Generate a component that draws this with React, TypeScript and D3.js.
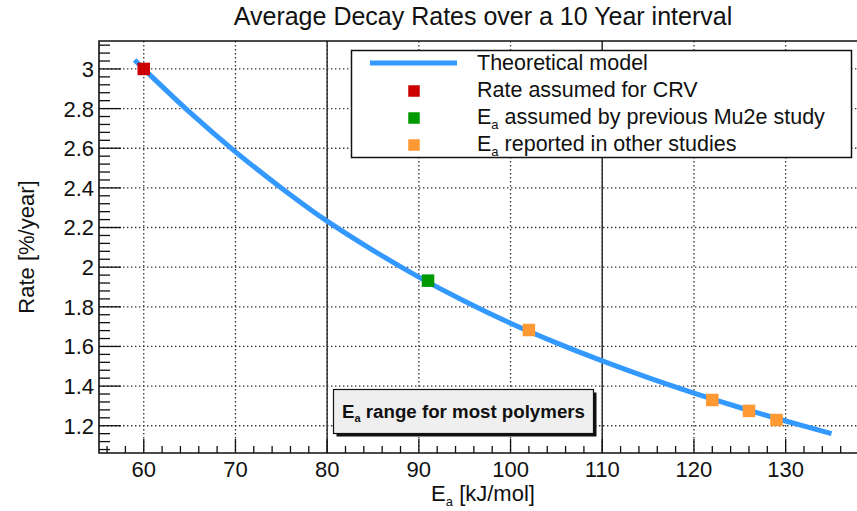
import React from "react";
import * as d3 from "d3";

const W = 857;
const H = 511;

// Theoretical model curve (Ea in kJ/mol, rate in %/year)
const modelEa = [59, 60, 65, 70, 75, 80, 85, 90, 95, 100, 105, 110, 115, 120, 125, 130, 135];
const modelRate = [3.045, 3.0, 2.782, 2.582, 2.4, 2.232, 2.085, 1.95, 1.828, 1.717, 1.618, 1.527, 1.443, 1.365, 1.292, 1.224, 1.16];

const crvEa = [60];
const crvRate = [3.0];
const mu2eEa = [91];
const mu2eRate = [1.932];
const otherEa = [102, 122, 126, 129];
const otherRate = [1.683, 1.33, 1.275, 1.229];

const xMajor = [60, 70, 80, 90, 100, 110, 120, 130];
const yMajor = [1.2, 1.4, 1.6, 1.8, 2, 2.2, 2.4, 2.6, 2.8, 3];
const rangeLines = [80, 110];

const legendLabels = ["Theoretical model", "Rate assumed for CRV", "assumed by previous Mu2e study", "reported in other studies"];

const C_LINE = "#3399ff";
const C_RED = "#cc0000";
const C_GREEN = "#009900";
const C_ORANGE = "#ff9933";
const FONT = "'Liberation Sans', Arial, Helvetica, sans-serif";

export default function App() {
  const L = 99, T = 41, B = 453, R = 858;
  const x = d3.scaleLinear().domain([55.12, 55.12 + (R - L) / 9.17]).range([L, R]);
  const y = d3.scaleLinear().domain([1.0625, 3.141]).range([B, T]);

  const xMinor: number[] = [];
  for (let v = 56; v <= 137; v += 2) if (v % 10 !== 0) xMinor.push(v);
  const yMinor: number[] = [];
  for (let i = 27; i <= 78; i++) {
    const v = i * 0.04;
    if (Math.abs(v * 5 - Math.round(v * 5)) > 1e-6 && v > 1.0625 && v < 3.141) yMinor.push(v);
  }

  const line = d3
    .line<number>()
    .x((_, i) => x(modelEa[i]))
    .y((d) => y(d))
    .curve(d3.curveCatmullRom);

  const ms = 12.5;
  const square = (cx: number, cy: number, c: string, key: string, s = ms) => (
    <rect key={key} x={cx - s / 2} y={cy - s / 2} width={s} height={s} fill={c} />
  );

  const legY = [70, 97, 124, 151];
  const sub = (size: number, shift: number) => [
    <tspan key="s" dy={shift} fontSize={size}>a</tspan>,
    <tspan key="r" dy={-shift}>{" "}</tspan>,
  ];

  return (
    <svg width={W} height={H} style={{ position: "absolute", left: 0, top: 0, background: "#fff" }} fontFamily={FONT}>
      <rect x={0} y={0} width={W} height={H} fill="#fff" />
      <text x={483} y={25} textAnchor="middle" fontSize="25" fill="#111">
        Average Decay Rates over a 10 Year interval
      </text>

      {/* grid */}
      <g stroke="#333" strokeWidth={1.3} strokeDasharray="1.4,2.6">
        {xMajor.map((v) => (
          <line key={"gx" + v} x1={x(v)} x2={x(v)} y1={T} y2={B} />
        ))}
        {yMajor.map((v) => (
          <line key={"gy" + v} x1={L} x2={R} y1={y(v)} y2={y(v)} />
        ))}
      </g>

      {/* Ea range lines */}
      {rangeLines.map((v) => (
        <line key={"rl" + v} x1={x(v)} x2={x(v)} y1={T} y2={B} stroke="#333" strokeWidth={1.5} />
      ))}

      {/* range box */}
      <rect x={336.5} y={392.5} width={260} height={44} fill="#111" />
      <rect x={333.5} y={389.5} width={260} height={44} fill="#efefef" stroke="#111" strokeWidth={1.2} />
      <text x={463.5} y={418} textAnchor="middle" fontSize="18.7" fontWeight="bold" fill="#111">
        E{sub(11, 4)}range for most polymers
      </text>

      {/* model curve */}
      <path d={line(modelRate) || ""} fill="none" stroke={C_LINE} strokeWidth={5} />

      {/* markers */}
      {crvEa.map((v, i) => square(x(v), y(crvRate[i]), C_RED, "r" + i))}
      {mu2eEa.map((v, i) => square(x(v), y(mu2eRate[i]), C_GREEN, "g" + i))}
      {otherEa.map((v, i) => square(x(v), y(otherRate[i]), C_ORANGE, "o" + i))}

      {/* legend */}
      <rect x={351.5} y={50.5} width={500} height={107} fill="#fff" stroke="#111" strokeWidth={1.5} />
      <line x1={370} x2={457} y1={63} y2={63} stroke={C_LINE} strokeWidth={5} />
      {square(414, 91, C_RED, "lr", 11.5)}
      {square(414, 118, C_GREEN, "lg", 11.5)}
      {square(414, 145, C_ORANGE, "lo", 11.5)}
      <g fontSize="21.5" fill="#111">
        <text x={477} y={legY[0]}>{legendLabels[0]}</text>
        <text x={477} y={legY[1]}>{legendLabels[1]}</text>
        <text x={477} y={legY[2]}>E{sub(13, 5)}{legendLabels[2]}</text>
        <text x={477} y={legY[3]}>E{sub(13, 5)}{legendLabels[3]}</text>
      </g>

      {/* frame */}
      <path d={`M${R},${T}H${L}V${B}H${R}`} fill="none" stroke="#111" strokeWidth={1.6} />

      {/* ticks */}
      <g stroke="#111" strokeWidth={1.3}>
        {xMajor.map((v) => (
          <line key={"tx" + v} x1={x(v)} x2={x(v)} y1={B} y2={B - 14} />
        ))}
        {xMinor.map((v) => (
          <line key={"mx" + v} x1={x(v)} x2={x(v)} y1={B} y2={B - 7} />
        ))}
        {yMajor.map((v) => (
          <line key={"ty" + v} x1={L} x2={L + 22} y1={y(v)} y2={y(v)} />
        ))}
        {yMinor.map((v) => (
          <line key={"my" + v} x1={L} x2={L + 11} y1={y(v)} y2={y(v)} />
        ))}
      </g>

      {/* tick labels */}
      <g fontSize="22" fill="#111">
        {xMajor.map((v) => (
          <text key={"lx" + v} x={x(v)} y={477} textAnchor="middle">
            {v}
          </text>
        ))}
        {yMajor.map((v) => (
          <text key={"ly" + v} x={94} y={y(v)} dy="0.36em" textAnchor="end">
            {d3.format("~g")(v)}
          </text>
        ))}
      </g>

      {/* axis titles */}
      <text x={483} y={501} textAnchor="middle" fontSize="22" fill="#111">
        E{sub(13, 5)}[kJ/mol]
      </text>
      <text transform={`translate(34,247) rotate(-90)`} textAnchor="middle" fontSize="22" fill="#111">
        Rate [%/year]
      </text>
    </svg>
  );
}
